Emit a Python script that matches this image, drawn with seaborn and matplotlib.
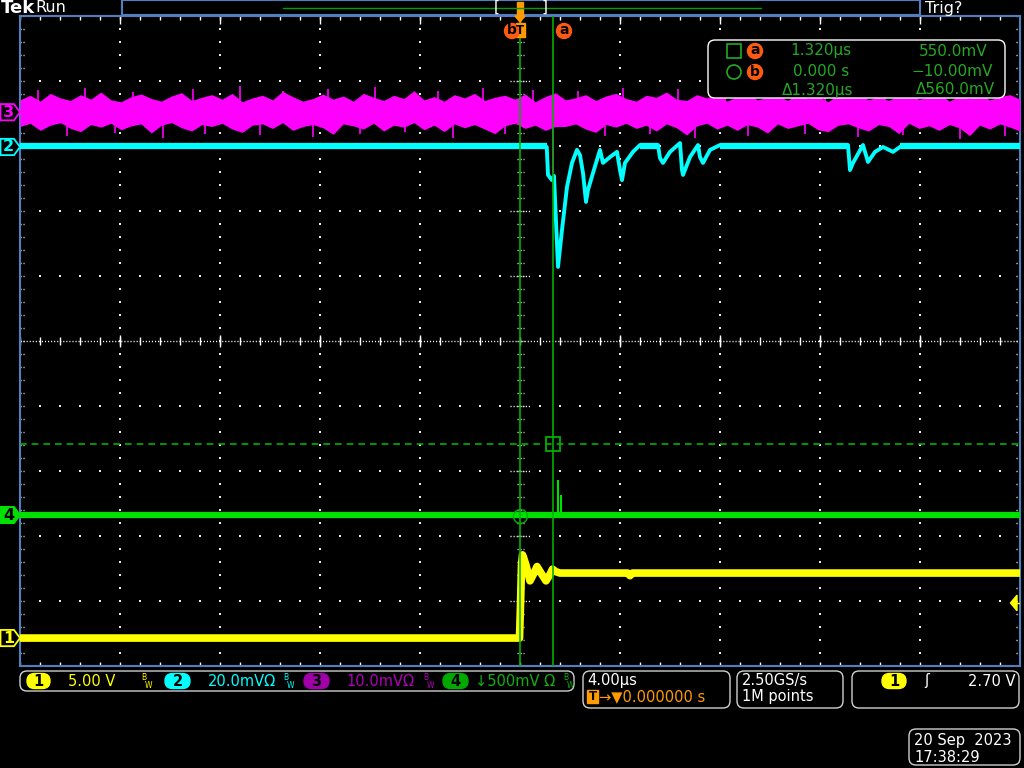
import numpy as np
import pandas as pd
import matplotlib
matplotlib.use("Agg")
import matplotlib.pyplot as plt
import matplotlib.patches as mpatches
import matplotlib.transforms as mtrans
import seaborn as sns

# --- reglages de l'oscillo (4 us/div, 10 div) ---
T_MIN, T_MAX = -20.0, 20.0
CH1_SCALE, CH1_POS = 5.0, -4.57      # V/div, position en div
CH2_SCALE, CH2_POS = 20.0, 2.985     # mV/div
CH3_SCALE, CH3_POS = 10.0, 3.52      # mV/div
CH4_SCALE, CH4_POS = 500.0, -2.677   # mV/div
TRIG_LEVEL = 2.70                    # V sur ch1
CURSOR_A_T, CURSOR_A_MV = 1.32, 550.0
CURSOR_B_T, CURSOR_B_MV = 0.0, -10.0

# --- voie 1 (jaune), en V ---
ch1_t = [-20, -0.02, 0.02, 0.06, 0.10, 0.14, 0.24, 0.40, 0.56, 0.68,
         0.84, 1.04, 1.20, 1.30, 1.44, 1.60, 4.30, 4.40, 4.50, 20]
ch1_v = [0, 0, 2.5, 5.6, 6.4, 6.2, 5.6, 4.4, 5.0, 5.5,
         5.0, 4.4, 4.9, 5.3, 5.1, 5.0, 5.0, 4.8, 5.0, 5.0]

# --- voie 2 (cyan), en mV ---
ch2_t = [-20, 1.07, 1.12, 1.28, 1.36, 1.52, 1.68, 1.88, 2.08, 2.28,
         2.40, 2.52, 2.64, 2.72, 2.92, 3.20, 3.32, 3.60, 3.88, 4.00,
         4.08, 4.20, 4.52, 4.80, 5.52, 5.60, 5.72, 6.00, 6.40, 6.48,
         6.52, 6.80, 7.12, 7.20, 7.32, 7.60, 8.00, 13.12, 13.20, 13.32,
         13.72, 13.92, 14.20, 14.52, 14.92, 15.20, 20]
ch2_mv = [0, 0, -8.6, -10.2, -8.9, -36.9, -25.5, -12.3, -4.9, -0.9,
          -2.5, -8.0, -16.9, -13.2, -8.0, -0.9, -4.9, -3.1, -1.5, -7.1,
          -10.2, -4.9, -1.5, 0.6, 0.6, -3.4, -4.9, -1.5, 1.2, -7.1,
          -8.6, -3.1, 0.6, -3.1, -4.9, -0.9, 0.6, 0.6, -7.1, -4.9,
          0.6, -4.6, -1.5, 0.0, -1.5, 0.0, 0.0]
ch2_flat_start = [-20, 4.8, 8.0, 15.2]
ch2_flat_end = [1.07, 5.52, 13.12, 20]

# --- voie 3 (magenta), enveloppe du bruit en mV ---
ch3_upper = [1.9, 2.6, 1.7, 2.9, 2.2, 1.8, 2.7, 2.0, 3.1, 1.9,
             1.6, 2.4, 2.8, 2.1, 1.7, 2.5, 3.0, 1.8, 2.3, 2.7,
             2.0, 2.9, 1.6, 2.2, 2.6, 1.9, 3.2, 2.4, 1.7, 2.1,
             2.8, 2.0, 2.5, 1.7, 2.9, 2.3, 1.8, 2.6, 2.1, 3.3,
             1.9, 2.4, 1.7, 2.7, 2.2, 2.9, 1.8, 2.3, 2.6, 2.0,
             2.8, 1.6, 2.4, 3.0, 1.9, 2.2, 2.7, 1.8, 2.5, 2.9,
             2.1, 1.7, 2.6, 2.3, 3.1, 2.0, 1.8, 2.7, 2.2, 2.8,
             1.7, 2.4, 2.9, 1.9, 2.3, 2.6, 1.8, 2.9, 2.1, 2.5,
             1.6, 2.7, 2.2, 3.0, 1.9, 2.4, 1.8, 2.6, 2.8, 2.0,
             2.3, 2.9, 1.7, 2.5, 2.1, 2.8, 1.9, 2.4, 2.7, 2.0]
ch3_lower = [-2.2, -1.7, -2.8, -2.0, -1.6, -2.5, -3.0, -1.9, -2.3, -1.7,
             -2.7, -2.1, -1.8, -3.2, -2.0, -1.6, -2.4, -2.9, -1.9, -2.2,
             -1.7, -2.6, -3.1, -2.0, -1.8, -2.5, -1.6, -2.8, -2.2, -1.9,
             -2.4, -3.4, -1.8, -2.1, -2.6, -1.7, -2.9, -2.0, -2.3, -1.6,
             -2.7, -2.0, -3.0, -1.8, -2.4, -1.9, -2.6, -3.3, -2.1, -1.7,
             -2.5, -2.0, -2.8, -2.2, -2.2, -1.8, -2.6, -3.1, -1.9, -2.3,
             -1.7, -2.5, -2.0, -2.9, -1.8, -2.4, -3.5, -2.1, -1.7, -2.6,
             -2.0, -2.8, -1.9, -2.3, -3.2, -1.8, -2.5, -2.1, -1.7, -2.7,
             -3.0, -2.0, -1.8, -2.4, -2.9, -1.9, -2.2, -3.3, -1.7, -2.5,
             -2.1, -2.8, -1.9, -2.4, -3.6, -2.0, -2.6, -1.8, -2.3, -2.9]
# pointes isolees du bruit (us, mV)
ch3_spike_t = [-19.3, -18.1, -17.4, -16.2, -15.5, -14.3, -13.1, -12.6, -11.2, -10.4,
               -9.5, -8.3, -7.7, -6.4, -5.8, -4.6, -3.3, -2.7, -1.5, -0.6,
               0.5, 1.30, 2.3, 3.4, 4.1, 5.2, 6.3, 7.0, 8.2, 9.1,
               10.3, 11.4, 12.2, 13.5, 14.6, 15.3, 16.4, 17.6, 18.3, 19.4]
ch3_spike_mv = [3.4, -3.6, 3.8, -3.2, 3.1, -3.9, 3.5, -3.3, 4.0, -3.5,
                3.3, -3.8, 3.6, -3.4, 3.9, -3.1, 3.2, -4.0, 3.7, -3.3,
                3.4, -9.2, 3.2, -3.7, 3.8, -3.4, 3.5, -3.9, 3.1, -3.6,
                3.9, -3.3, 3.4, -3.8, 3.2, -3.5, 3.7, -4.1, 3.3, -3.6]

# --- voie 4 (vert), en mV ---
ch4_t = [-20, 20]
ch4_mv = [0, 0]
ch4_spike_t = [1.52, 1.64]
ch4_spike_mv = [270, 154]

YELLOW = "#ffff00"
CYAN = "#00ffff"
MAGENTA = "#ff00ff"
PURPLE = "#b000b8"
GREEN = "#00e000"
CURSOR_GREEN = "#00b000"
TXT_GREEN = "#25a825"
BLUE = "#4f80bd"
ORANGE = "#ff9a00"
RED_ORANGE = "#ff5a10"
GREY = "#d0d0d0"


def to_div(vals, scale, pos):
    return pos + np.asarray(vals, dtype=float) / scale


def t2px(t):
    return 20 + (t - T_MIN) / (T_MAX - T_MIN) * 1000


sns.set_theme(style="dark", rc={"axes.facecolor": "black",
                                "figure.facecolor": "black",
                                "savefig.facecolor": "black"})
plt.rcParams["font.family"] = ["DejaVu Sans"]

fig = plt.figure(figsize=(10.24, 7.68), dpi=100)
ax = fig.add_axes([20 / 1024, 1 - 666 / 768, 1000 / 1024, 650 / 768])
ax.set_xlim(T_MIN, T_MAX)
ax.set_ylim(-5, 5)
ax.set_xticks([])
ax.set_yticks([])
for sp in ax.spines.values():
    sp.set_visible(True)
    sp.set_color(BLUE)
    sp.set_linewidth(1.5)

# graticule
gx = np.arange(T_MIN, T_MAX + 0.01, 0.8)
gy = np.arange(-5, 5.01, 0.2)
dot = dict(s=1.6, c="#e8e8e8", marker="s", linewidths=0, zorder=1)
for xm in [-16, -12, -8, -4, 4, 8, 12, 16]:
    ax.scatter(np.full_like(gy, xm), gy, **dot)
for ym in [-4, -3, -2, -1, 1, 2, 3, 4]:
    ax.scatter(gx, np.full_like(gx, ym), **dot)
ax.axhline(0, color="white", lw=1, ls=(0, (0.8, 1.4)), zorder=1)
ax.vlines(gx, -0.06, 0.06, color="white", lw=1, zorder=1)
ax.vlines([-16, -12, -8, -4, 4, 8, 12, 16], -0.09, 0.09, color="white", lw=1, zorder=1)
ax.hlines(gy, -0.14, 0.14, color="white", lw=1, ls=(0, (0.8, 1.4)), zorder=1)
ax.hlines([-4, -3, -2, -1, 1, 2, 3, 4], -0.4, 0.4, color="white", lw=1,
          ls=(0, (0.8, 1.4)), zorder=1)
ax.vlines(gx, 4.94, 5, color="white", lw=1, zorder=1)
ax.vlines(gx, -5, -4.94, color="white", lw=1, zorder=1)
ax.vlines([-16, -12, -8, -4, 0, 4, 8, 12, 16], 4.88, 5, color="white", lw=1, zorder=1)
ax.hlines(gy, 19.84, 20, color="white", lw=1, ls=(0, (0.8, 1.4)), zorder=1)
ax.hlines(gy, -20, -19.84, color="white", lw=1, ls=(0, (0.8, 1.4)), zorder=1)

# voie 3
ch3_t = np.linspace(T_MIN, T_MAX, len(ch3_upper))
ax.fill_between(ch3_t, to_div(ch3_lower, CH3_SCALE, CH3_POS),
                to_div(ch3_upper, CH3_SCALE, CH3_POS),
                color=MAGENTA, lw=0, zorder=3)
ax.vlines(ch3_spike_t, CH3_POS, to_div(ch3_spike_mv, CH3_SCALE, CH3_POS),
          color=MAGENTA, lw=1.2, zorder=3)

# voie 2
df2 = pd.DataFrame({"t": ch2_t, "y": to_div(ch2_mv, CH2_SCALE, CH2_POS)})
sns.lineplot(data=df2, x="t", y="y", ax=ax, color=CYAN, lw=2.8,
             sort=False, estimator=None, zorder=4)
ax.hlines(np.full(len(ch2_flat_start), CH2_POS + 0.3 / CH2_SCALE),
          ch2_flat_start, ch2_flat_end, color=CYAN, lw=4.5, zorder=4)

# voie 4
df4 = pd.DataFrame({"t": ch4_t, "y": to_div(ch4_mv, CH4_SCALE, CH4_POS)})
sns.lineplot(data=df4, x="t", y="y", ax=ax, color=GREEN, lw=4.5,
             sort=False, estimator=None, zorder=4)
ax.vlines(ch4_spike_t, CH4_POS, to_div(ch4_spike_mv, CH4_SCALE, CH4_POS),
          color=GREEN, lw=1.5, zorder=4)

# voie 1
df1 = pd.DataFrame({"t": ch1_t, "y": to_div(ch1_v, CH1_SCALE, CH1_POS)})
sns.lineplot(data=df1, x="t", y="y", ax=ax, color=YELLOW, lw=5.5,
             sort=False, estimator=None, zorder=4)
ax.set_xlabel("")
ax.set_ylabel("")

# curseurs
ya = to_div([CURSOR_A_MV], CH4_SCALE, CH4_POS)[0]
yb = to_div([CURSOR_B_MV], CH4_SCALE, CH4_POS)[0]
ax.axvline(CURSOR_A_T, color=CURSOR_GREEN, lw=1.2, zorder=5)
ax.axvline(CURSOR_B_T, color=CURSOR_GREEN, lw=1.2, zorder=5)
ax.axhline(ya, color=CURSOR_GREEN, lw=1.2, ls=(0, (4, 3)), zorder=5)
ax.plot([CURSOR_A_T], [ya], marker="s", ms=10, mfc="none", mec=CURSOR_GREEN,
        mew=1.3, zorder=6)
ax.plot([CURSOR_B_T], [yb], marker="o", ms=10, mfc="none", mec=CURSOR_GREEN,
        mew=1.0, ls="none", zorder=6)

# reperes des voies a gauche
btr = mtrans.blended_transform_factory(ax.transAxes, ax.transData)
markers = [("1", CH1_POS, YELLOW, False), ("2", CH2_POS, CYAN, False),
           ("3", CH3_POS, MAGENTA, False), ("4", CH4_POS, GREEN, True)]
for lab, pos, col, filled in markers:
    h = 0.125
    poly = mpatches.Polygon([(-0.0195, pos - h), (-0.006, pos - h), (0.0, pos),
                             (-0.006, pos + h), (-0.0195, pos + h)],
                            closed=True, transform=btr, clip_on=False,
                            fc=col if filled else "black", ec=col, lw=1.3, zorder=7)
    ax.add_patch(poly)
    ax.text(-0.0115, pos, lab, transform=btr, clip_on=False, ha="center",
            va="center", fontsize=11.5, fontweight="bold",
            color="black" if filled else col, zorder=8)

# niveau de declenchement (droite)
yt = to_div([TRIG_LEVEL], CH1_SCALE, CH1_POS)[0]
ax.add_patch(mpatches.Polygon([(0.9905, yt), (0.997, yt + 0.12), (0.997, yt - 0.12)],
                              closed=True, transform=btr, fc=YELLOW, ec=YELLOW,
                              clip_on=False, zorder=7))
ax.plot([0.996, 1.0], [yt, yt], transform=btr, color=YELLOW, lw=1, zorder=7)

# --- habillage de l'ecran, en pixels ---
ov = fig.add_axes([0, 0, 1, 1], facecolor="none")
ov.set_xlim(0, 1024)
ov.set_ylim(768, 0)
ov.axis("off")


def rbox(x0, y0, x1, y1, ec=GREY, fc="black", r=6, lw=1.0):
    ov.add_patch(mpatches.FancyBboxPatch((x0, y0), x1 - x0, y1 - y0,
                                         boxstyle=f"round,pad=0,rounding_size={r}",
                                         fc=fc, ec=ec, lw=lw))


def pill(x0, x1, yc, col, lab):
    rbox(x0, yc - 7.5, x1, yc + 7.5, ec=col, fc=col, r=7.5)
    ov.text((x0 + x1) / 2, yc, lab, ha="center", va="center", fontsize=10.5,
            fontweight="bold", color="black")


def bw(x, col):
    ov.text(x, 677, "B", color=col, fontsize=5.5, ha="left", va="center")
    ov.text(x + 4, 685, "W", color=col, fontsize=5.5, ha="left", va="center")


# barre du haut
ov.text(1, 8, "Tek", color="white", fontsize=13, fontweight="bold", va="center")
ov.text(35, 8, "Run", color="white", fontsize=11.5, va="center")
ov.text(925, 8, "Trig?", color="white", fontsize=11.5, va="center")
ov.add_patch(mpatches.Rectangle((122, 0), 798, 15, fc="black", ec=BLUE, lw=1.5))
ov.plot([283, 761], [7.5, 7.5], color="#00a000", lw=1)
ov.text(497, 7, "[", color="white", fontsize=11, ha="center", va="center")
ov.text(545, 7, "]", color="white", fontsize=11, ha="center", va="center")
ov.add_patch(mpatches.Rectangle((517, 2), 6, 13, fc=ORANGE, ec=ORANGE))
ov.add_patch(mpatches.Polygon([(515, 16), (525, 16), (520, 22)], closed=True,
                              fc=ORANGE, ec=ORANGE))

# marqueurs des curseurs en haut
tb = t2px(CURSOR_B_T)
ta = t2px(CURSOR_A_T)
ov.add_patch(mpatches.Rectangle((tb - 4.5, 23), 9, 14, fc=ORANGE, ec=ORANGE))
ov.text(tb, 30, "T", color="black", fontsize=8.5, fontweight="bold",
        ha="center", va="center")
for cx, lab in [(tb - 8, "b"), (ta + 11, "a")]:
    ov.add_patch(mpatches.Circle((cx, 31), 7.5, fc=RED_ORANGE, ec=RED_ORANGE))
    ov.text(cx, 30.5, lab, color="black", fontsize=10, fontweight="bold",
            ha="center", va="center")

# lecture des curseurs
rbox(708, 40, 1005, 98, ec="white", r=7)
ov.add_patch(mpatches.Rectangle((727, 44), 14, 14, fill=False, ec=TXT_GREEN, lw=1.2))
ov.add_patch(mpatches.Circle((734, 72), 7, fill=False, ec=TXT_GREEN, lw=1.2))
for cy, lab in [(51, "a"), (72, "b")]:
    ov.add_patch(mpatches.Circle((755, cy), 7.5, fc=RED_ORANGE, ec=RED_ORANGE))
    ov.text(755, cy - 0.5, lab, color="black", fontsize=10, fontweight="bold",
            ha="center", va="center")
rd = dict(color=TXT_GREEN, fontsize=11, va="center")
ov.text(790, 51, "1.320µs", ha="left", **rd)
ov.text(987, 51, "550.0mV", ha="right", **rd)
ov.text(793, 72, "0.000 s", ha="left", **rd)
ov.text(993, 72, "\u221210.00mV", ha="right", **rd)
ov.text(782, 90, "Δ1.320µs", ha="left", **rd)
ov.text(995, 90, "Δ560.0mV", ha="right", **rd)

# barre des voies en bas
rbox(20, 671, 574, 691, r=7)
fs = 10.5
pill(27, 50, 681, YELLOW, "1")
ov.text(68, 681, "5.00 V", color=YELLOW, fontsize=fs, va="center")
bw(141, YELLOW)
pill(165, 190, 681, CYAN, "2")
ov.text(208, 681, "20.0mVΩ", color=CYAN, fontsize=fs, va="center")
bw(283, CYAN)
pill(304, 329, 681, "#a000a8", "3")
ov.text(346, 681, "10.0mVΩ", color=PURPLE, fontsize=fs, va="center")
bw(423, PURPLE)
pill(443, 468, 681, "#00a800", "4")
ov.text(475, 681, "↓500mV Ω", color="#10b010", fontsize=fs, va="center")
bw(563, "#10b010")

rbox(583, 671, 730, 708, r=7)
ov.text(587, 681, "4.00µs", color="white", fontsize=fs, va="center")
ov.add_patch(mpatches.Rectangle((587, 690), 11, 13, fc=ORANGE, ec=ORANGE))
ov.text(592.5, 696.5, "T", color="black", fontsize=8.5, fontweight="bold",
        ha="center", va="center")
ov.text(599, 697, "→▼0.000000 s", color=ORANGE, fontsize=fs, va="center")

rbox(737, 671, 843, 708, r=7)
ov.text(742, 681, "2.50GS/s", color="white", fontsize=fs, va="center")
ov.text(742, 697, "1M points", color="white", fontsize=fs, va="center")

rbox(852, 671, 1019, 708, r=7)
pill(882, 906, 681, YELLOW, "1")
ov.text(927, 681, "ʃ", color="white", fontsize=fs, va="center", ha="center")
ov.text(1015, 681, "2.70 V", color="white", fontsize=fs, va="center", ha="right")

rbox(909, 729, 1020, 765, r=7)
ov.text(914, 741, "20 Sep  2023", color="white", fontsize=fs, va="center")
ov.text(914, 757, "17:38:29", color="white", fontsize=fs, va="center")

fig.savefig("out.png", dpi=100, facecolor="black")
